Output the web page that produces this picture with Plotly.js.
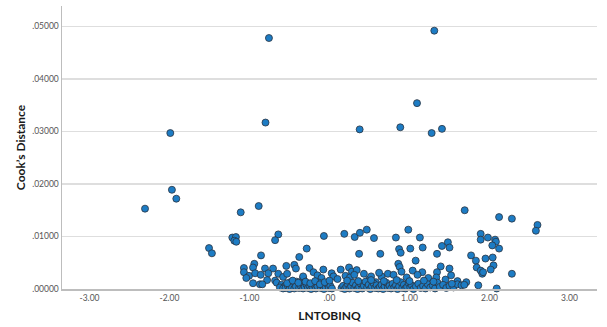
<!DOCTYPE html>
<html>
<head>
<meta charset="utf-8">
<script src="https://cdn.plot.ly/plotly-3.0.1.min.js"></script>
<style>html,body{margin:0;padding:0;background:#fff;}#chart{width:607px;height:327px;}</style>
</head>
<body>
<div id="chart"></div>
<script>
// Tick labels
const xTickVals = [-3, -2, -1, 0, 1, 2, 3];
const xTickText = ["-3.00", "-2.00", "-1.00", ".00", "1.00", "2.00", "3.00"];
const yTickVals = [0, 0.01, 0.02, 0.03, 0.04, 0.05];
const yTickText = [".00000", ".01000", ".02000", ".03000", ".04000", ".05000"];

// High Cook's distance points
const outliersX = [-2.306, -1.97, -1.915, -1.99, -1.11, -0.885, -0.80, -0.757, 0.377, 0.885, 1.094, 1.277, 1.31, 1.406, 1.69, 2.12, 2.28];
const outliersY = [0.0153, 0.0189, 0.0172, 0.0297, 0.0146, 0.0158, 0.0317, 0.0478, 0.0304, 0.0308, 0.0354, 0.0297, 0.0492, 0.0305, 0.0150, 0.0137, 0.0134];

// Middle band points
const midX = [-1.506, -1.47, -1.215, -1.17, -1.19, -1.165, -0.64, -0.68, -0.856, -0.378,
  -0.285, -0.07, 0.185, 0.315, 0.38, 0.466, 0.556, 0.37, 0.635, 0.83,
  0.985, 1.13, 0.87, 0.89, 1.01, 1.165, 1.406, 1.48, 1.50, 1.344,
  1.077, 0.86, 0.877, 1.39, 1.50, 1.89, 1.89, 1.98, 2.07, 2.08,
  2.035, 2.12, 1.77, 1.83, 1.95, 2.04, 2.05, 1.84, 2.60, 2.58,
  -1.07, -0.94, -0.956, -0.54, -0.44, -0.25, 0.244];
const midY = [0.0078, 0.0068, 0.0098, 0.0099, 0.0092, 0.0090, 0.0104, 0.0093, 0.0064, 0.0061,
  0.0077, 0.0101, 0.0105, 0.0099, 0.0107, 0.0113, 0.0097, 0.0067, 0.0067, 0.0098,
  0.0113, 0.0098, 0.0076, 0.0069, 0.0077, 0.0079, 0.0082, 0.0089, 0.0079, 0.0067,
  0.0054, 0.0048, 0.0042, 0.0043, 0.0039, 0.0105, 0.0094, 0.0098, 0.0094, 0.0090,
  0.0083, 0.0077, 0.0064, 0.0054, 0.0058, 0.0060, 0.0045, 0.0041, 0.0122, 0.0111,
  0.0040, 0.0048, 0.0041, 0.0044, 0.0046, 0.0040, 0.0041];

// Low band points
const lowX = [-1.07, -0.806, -0.706, -1.006, -1.04, -0.93, -0.86, -0.765, -0.78, -0.68,
  -0.64, -0.42, -0.58, -0.53, -0.33, -0.33, -0.20, -0.077, 0.027, 0.14,
  0.28, 0.34, 0.43, 0.20, 0.256, 0.494, 0.58, 1.04, 1.16, 1.344,
  1.335, 1.235, 0.65, 0.73, 0.80, 0.965, 1.45, 2.015, 1.89, 1.91,
  1.92, 2.28, 1.71, -0.15, -0.10, 0.05, 0.10, 0.31, 0.52, 0.62,
  0.90, 1.10, 1.52, 1.60];
const lowY = [0.0032, 0.0039, 0.0039, 0.0025, 0.0021, 0.0030, 0.0027, 0.0030, 0.0017, 0.0016,
  0.0029, 0.0039, 0.0023, 0.0029, 0.0021, 0.0024, 0.0032, 0.0037, 0.0030, 0.0037,
  0.0033, 0.0036, 0.0029, 0.0025, 0.0022, 0.0018, 0.0013, 0.0035, 0.0032, 0.0032,
  0.0022, 0.0021, 0.0024, 0.0029, 0.0027, 0.0022, 0.0018, 0.0037, 0.0035, 0.0029,
  0.0032, 0.0029, 0.0013, 0.0026, 0.0021, 0.0024, 0.0019, 0.0027, 0.0024, 0.0031,
  0.0033, 0.0027, 0.0026, 0.0015];

// Base band points (near zero)
const baseX = [-0.956, -0.87, -0.84, -0.66, -0.60, -0.56, -0.49, -0.45, -0.41, -0.40,
  -0.35, -0.62, -0.58, -0.55, -0.52, -0.50, -0.47, -0.44, -0.42, -0.38,
  -0.36, -0.33, -0.31, -0.29, -0.27, -0.25, -0.23, -0.21, -0.19, -0.17,
  -0.15, -0.13, -0.11, -0.09, -0.07, -0.05, -0.03, -0.01, 0.01, 0.03,
  -0.53, -0.46, -0.39, -0.30, -0.24, -0.18, -0.12, -0.06, 0.00, 0.15,
  0.17, 0.19, 0.21, 0.23, 0.25, 0.27, 0.29, 0.31, 0.33, 0.35,
  0.37, 0.39, 0.41, 0.43, 0.45, 0.47, 0.49, 0.51, 0.53, 0.55,
  0.57, 0.59, 0.61, 0.63, 0.65, 0.67, 0.69, 0.71, 0.73, 0.75,
  0.77, 0.79, 0.81, 0.83, 0.85, 0.87, 0.89, 0.91, 0.93, 0.95,
  0.97, 0.99, 1.01, 1.03, 1.05, 1.08, 1.11, 1.14, 1.17, 1.20,
  1.23, 1.26, 1.29, 1.32, 1.35, 1.38, 1.42, 1.46, 1.50, 1.55,
  1.60, 0.22, 0.36, 0.52, 0.68, 0.84, 1.00, 1.18, 1.30, 1.53,
  1.65, 1.685, 1.86, 2.09];
const baseY = [0.0011, 0.0009, 0.0009, 0.0012, 0.0008, 0.0005, 0.0013, 0.0008, 0.0014, 0.0003,
  0.0010, 0.0003, 0.0001, 0.0002, 0.0006, 0.0000, 0.0003, 0.0001, 0.0005, 0.0002,
  0.0006, 0.0001, 0.0004, 0.0009, 0.0002, 0.0006, 0.0000, 0.0003, 0.0008, 0.0001,
  0.0005, 0.0012, 0.0002, 0.0007, 0.0000, 0.0004, 0.0010, 0.0002, 0.0006, 0.0001,
  0.0011, 0.0016, 0.0012, 0.0014, 0.0011, 0.0015, 0.0009, 0.0013, 0.0016, 0.0002,
  0.0006, 0.0000, 0.0004, 0.0009, 0.0001, 0.0005, 0.0012, 0.0002, 0.0007, 0.0000,
  0.0004, 0.0010, 0.0001, 0.0006, 0.0014, 0.0003, 0.0008, 0.0000, 0.0005, 0.0011,
  0.0002, 0.0007, 0.0001, 0.0004, 0.0008, 0.0000, 0.0005, 0.0012, 0.0002, 0.0006,
  0.0001, 0.0010, 0.0003, 0.0007, 0.0000, 0.0005, 0.0013, 0.0002, 0.0008, 0.0001,
  0.0004, 0.0011, 0.0003, 0.0007, 0.0000, 0.0005, 0.0010, 0.0002, 0.0006, 0.0001,
  0.0009, 0.0003, 0.0007, 0.0001, 0.0012, 0.0004, 0.0008, 0.0002, 0.0006, 0.0003,
  0.0009, 0.0016, 0.0015, 0.0017, 0.0015, 0.0017, 0.0015, 0.0016, 0.0014, 0.0010,
  0.0007, 0.0008, 0.0007, 0.0001];

const xAll = outliersX.concat(midX, lowX, baseX);
const yAll = outliersY.concat(midY, lowY, baseY);

const trace = {
  type: "scatter",
  mode: "markers",
  x: xAll,
  y: yAll,
  cliponaxis: false,
  marker: {
    size: 7,
    color: "#1d7cc4",
    line: { color: "#2b3440", width: 0.8 }
  },
  hoverinfo: "skip"
};

const tickFont = { family: "Lato, 'Open Sans', sans-serif", size: 8.5, color: "#555555" };
const titleFont = { family: "Lato, 'Open Sans', sans-serif", size: 12, color: "#1a1a1a", weight: "bold" };

const layout = {
  width: 607,
  height: 327,
  margin: { l: 62, r: 10, t: 6, b: 38 },
  paper_bgcolor: "#ffffff",
  plot_bgcolor: "#ffffff",
  showlegend: false,
  hovermode: false,
  xaxis: {
    range: [-3.344, 3.344],
    tickmode: "array",
    tickvals: xTickVals,
    ticktext: xTickText,
    tickfont: tickFont,
    showgrid: false,
    zeroline: false,
    showline: true,
    linecolor: "#bdbdbd",
    linewidth: 1.5,
    ticks: "",
    title: { text: "LNTOBINQ", font: titleFont, standoff: 10 }
  },
  yaxis: {
    range: [0, 0.0539],
    tickmode: "array",
    tickvals: yTickVals,
    ticktext: yTickText,
    tickfont: tickFont,
    showgrid: true,
    gridcolor: "#dedede",
    gridwidth: 1.5,
    zeroline: false,
    showline: true,
    linecolor: "#bdbdbd",
    linewidth: 1.5,
    ticks: "",
    title: { text: "Cook\u2019s Distance", font: titleFont, standoff: 4 }
  }
};

Plotly.newPlot("chart", [trace], layout, { displayModeBar: false, staticPlot: true });
</script>
</body>
</html>
